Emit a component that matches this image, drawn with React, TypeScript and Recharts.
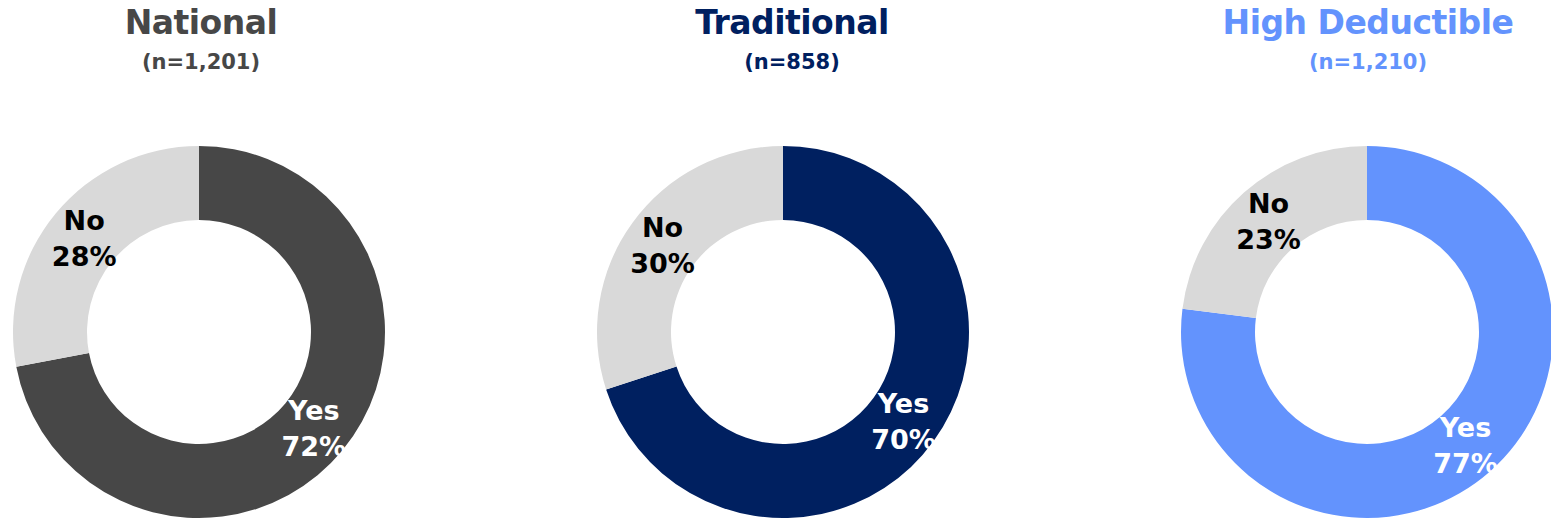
import React from "react";
import { PieChart, Pie, Cell } from "recharts";

const answers = ["Yes", "No"];
const groups = ["National", "Traditional", "High Deductible"];
const sampleSizes = ["(n=1,201)", "(n=858)", "(n=1,210)"];
const yesShare = [72, 70, 77];
const noShare = [28, 30, 23];
const groupColors = ["#474747", "#002060", "#6393FD"];
const noColor = "#D9D9D9";

const centersX = [199, 783, 1367];
const titleCentersX = [201, 792, 1368];
const CY = 332;
const FONT = "'DejaVu Sans', sans-serif";

const RAD = Math.PI / 180;

function makeLabel(textColors: string[]) {
  return (props: any) => {
    const { cx, cy, midAngle, innerRadius, outerRadius, index, payload } = props;
    const r = (innerRadius + outerRadius) / 2;
    const x = cx + r * Math.cos(-midAngle * RAD);
    const y = cy + r * Math.sin(-midAngle * RAD);
    return (
      <text
        x={x}
        y={y}
        textAnchor="middle"
        fill={textColors[index]}
        fontFamily={FONT}
        fontWeight="bold"
        fontSize={27}
      >
        <tspan x={x} dy={-7}>
          {payload.name}
        </tspan>
        <tspan x={x} dy={36}>
          {payload.value}%
        </tspan>
      </text>
    );
  };
}

export default function App() {
  return (
    <div style={{ position: "absolute", left: 0, top: 0, width: 1551, height: 519, background: "#fff" }}>
      {groups.map((g, i) => (
        <div
          key={g}
          style={{
            position: "absolute",
            left: titleCentersX[i] - 250,
            width: 500,
            top: 0,
            textAlign: "center",
            color: groupColors[i],
            fontFamily: FONT,
            fontWeight: "bold",
          }}
        >
          <div style={{ position: "absolute", top: 3, width: 500, fontSize: 33, letterSpacing: -0.5 }}>{g}</div>
          <div style={{ position: "absolute", top: 50, width: 500, fontSize: 21 }}>{sampleSizes[i]}</div>
        </div>
      ))}
      <div style={{ position: "absolute", left: 0, top: 0 }}>
        <PieChart width={1551} height={519} margin={{ top: 0, right: 0, bottom: 0, left: 0 }}>
          {groups.map((g, i) => {
            const data = [
              { name: answers[0], value: yesShare[i] },
              { name: answers[1], value: noShare[i] },
            ];
            return (
              <Pie
                key={g}
                data={data}
                dataKey="value"
                nameKey="name"
                cx={centersX[i]}
                cy={CY}
                innerRadius={112}
                outerRadius={186}
                startAngle={90}
                endAngle={-270}
                stroke="none"
                labelLine={false}
                label={makeLabel(["#FFFFFF", "#000000"])}
                isAnimationActive={false}
              >
                <Cell fill={groupColors[i]} />
                <Cell fill={noColor} />
              </Pie>
            );
          })}
        </PieChart>
      </div>
    </div>
  );
}
